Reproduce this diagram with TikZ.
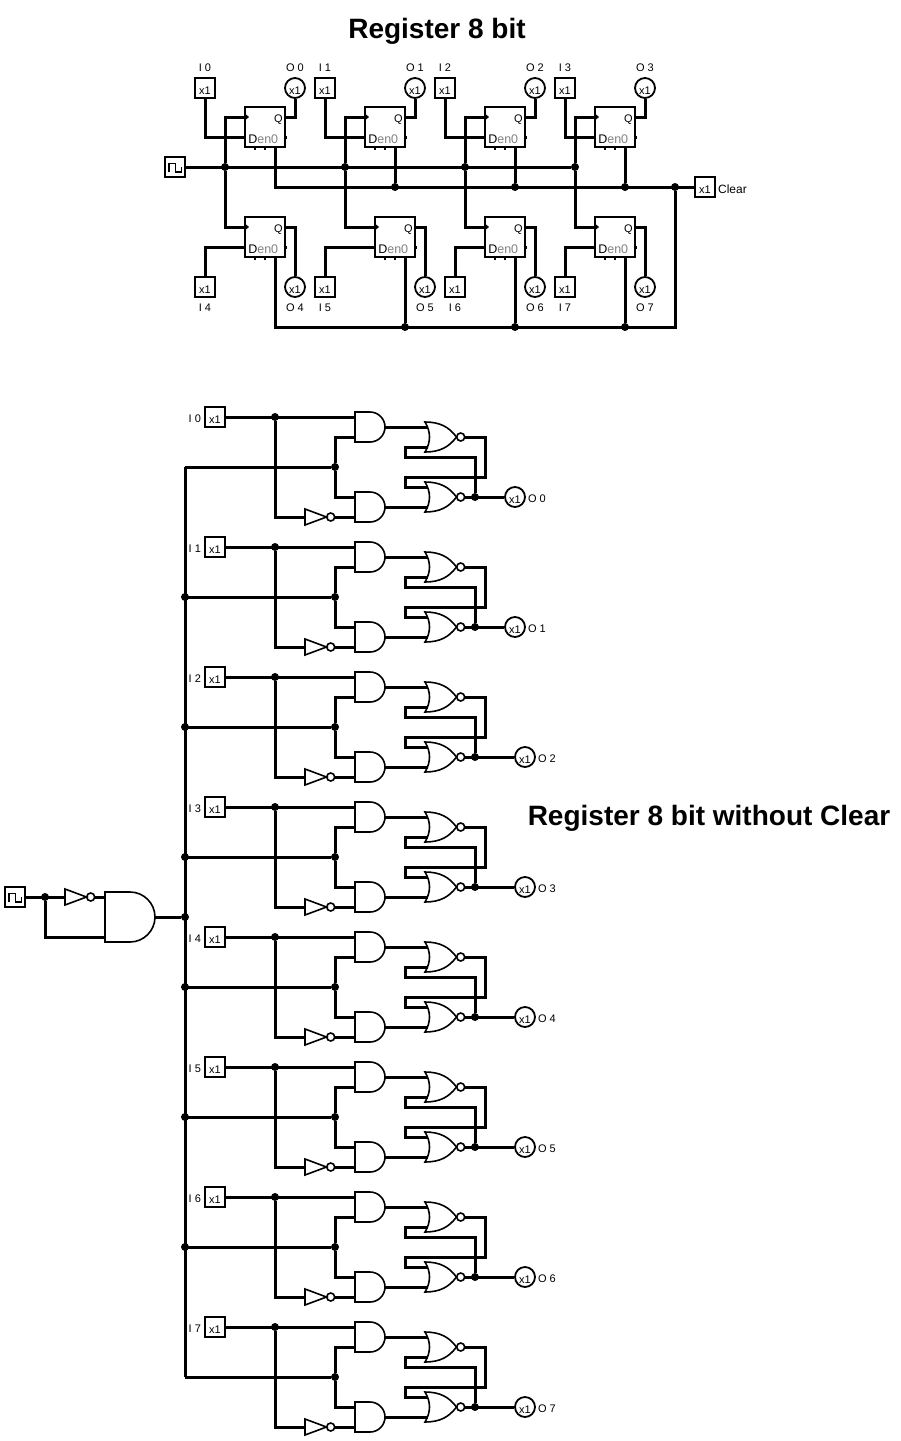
\documentclass[tikz,border=0pt]{standalone}
\usepackage{fontspec}
\setmainfont{Liberation Sans}
\usetikzlibrary{positioning}
\tikzset{
  wire/.style={line width=3pt},
  gateline/.style={line width=1.6pt},
  dot/.style={circle,fill=black,inner sep=0pt,minimum size=8pt},
  xbox/.style={draw,line width=1.8pt,inner sep=0pt,minimum size=20pt,text height=12pt,text depth=0pt,font=\fontsize{11}{11}\selectfont},
  xout/.style={draw,circle,line width=1.8pt,inner sep=0pt,minimum size=20pt,text height=12pt,text depth=0pt,font=\fontsize{11}{11}\selectfont},
  lbl/.style={inner sep=0pt,yshift=-1pt,font=\fontsize{11}{11}\selectfont},
  title/.style={inner sep=0pt,font=\fontsize{28}{28}\selectfont\bfseries},
  ffbox/.style={draw,line width=1.8pt,inner sep=0pt,minimum size=40pt},
  clocksrc/.style={draw,line width=1.8pt,inner sep=0pt,minimum size=20pt,
    path picture={\draw[line width=1.8pt] (path picture bounding box.center) ++(-6,5) -- ++(0,-8.5) -- ++(6.5,0) -- ++(0,8.5) -- ++(6,0) -- ++(0,-5);}},
  pics/andpic/.style 2 args={code={
    \draw[gateline] (-#1,-#1) -- (0,-#1) .. controls (0.55*#1,-#1) and (#1,-0.55*#1) .. (#1,0)
      .. controls (#1,0.55*#1) and (0.55*#1,#1) .. (0,#1) -- (-#1,#1) -- cycle;
    \coordinate (-in1) at (-#1,-#2);
    \coordinate (-in2) at (-#1,#2);
    \coordinate (-out) at (#1,0);
  }},
  pics/norpic/.style={code={
    \draw[gateline] (-15,-15) .. controls (-9,-5) and (-9,5) .. (-15,15)
      .. controls (0,15) and (9,10) .. (16.5,0) .. controls (9,-10) and (0,-15) .. (-15,-15) -- cycle;
    \draw[gateline] (20.7,0) circle (4);
    \coordinate (-in1) at (-12,-10);
    \coordinate (-in2) at (-12,10);
    \coordinate (-out) at (24.7,0);
  }},
  pics/notpic/.style={code={
    \draw[gateline] (-10,-8) -- (11.5,0) -- (-10,8) -- cycle;
    \draw[gateline] (15.7,0) circle (4);
    \coordinate (-in) at (-10,0);
    \coordinate (-out) at (19.7,0);
  }}
}
\begin{document}
\begin{tikzpicture}[x=1pt,y=-1pt]
  \useasboundingbox (0,0) rectangle (901,1441);
  \node[title] (titleA) at (437,31) {Register 8 bit};
  \node[title] (titleB) at (709,818) {Register 8 bit without Clear};

  % register with clear
  \node[clocksrc] (clkA) at (175,167) {};
  \node[xbox] (clr) at (705,187) {x1};
  \node[lbl,right=2pt of clr,yshift=-1pt] (lclr) {\fontsize{12}{12}\selectfont Clear};
  \node[dot] (clrj) at (675,187) {};
  \coordinate (clrbot) at (675,327);
  \foreach \i/\x/\inx/\outx/\ck in {0/265/205/295/225,1/385/325/415/345,2/505/445/535/465,3/615/565/645/575}{
    \node[ffbox] (ff\i) at (\x,127) {};
    \node[xbox] (in\i) at (\inx,88) {x1};
    \node[xout] (out\i) at (\outx,88) {x1};
    \node[lbl,above=6pt of in\i] (lin\i) {I \i};
    \node[lbl,above=6pt of out\i] (lout\i) {O \i};
    \node[dot] (ck\i) at (\ck,167) {};
    \draw[wire] (in\i.south) |- ([yshift=-10pt]ff\i.west);
    \draw[wire] ([yshift=10pt]ff\i.east) -| (out\i.south);
    \draw[wire] (ck\i) |- ([yshift=10pt]ff\i.west);
  }
  \foreach \i/\x/\inx/\outx/\ck [evaluate=\i as \k using int(\i-4)] in {4/265/205/295/225,5/395/325/425/345,6/505/455/535/465,7/615/565/645/575}{
    \node[ffbox] (ff\i) at (\x,237) {};
    \node[xbox] (in\i) at (\inx,287) {x1};
    \node[xout] (out\i) at (\outx,287) {x1};
    \node[lbl,below=5pt of in\i] (lin\i) {I \i};
    \node[lbl,below=5pt of out\i] (lout\i) {O \i};
    \draw[wire] (in\i.north) |- ([yshift=-10pt]ff\i.west);
    \draw[wire] ([yshift=10pt]ff\i.east) -| (out\i.north);
    \draw[wire] (ck\k) |- ([yshift=10pt]ff\i.west);
  }
  \foreach \i in {0,...,7}{
    \node[lbl,anchor=east] (q\i) at ([xshift=-3pt,yshift=8pt]ff\i.east) {Q};
    \node[lbl,anchor=west] (d\i) at ([xshift=4pt,yshift=-11pt]ff\i.west) {\fontsize{12.5}{12.5}\selectfont D\textcolor{gray}{en0}};
    \fill ([yshift=14pt]ff\i.west) -- ([xshift=5pt,yshift=10pt]ff\i.west) -- ([yshift=6pt]ff\i.west) -- cycle;
    \draw[line width=2pt] ([yshift=-9pt]ff\i.east) -- ([yshift=-12pt]ff\i.east);
    \draw[line width=2pt] ([xshift=-10pt]ff\i.south) -- ++(0,2);
    \draw[line width=2pt] (ff\i.south) -- ++(0,2);
  }
  \draw[wire] (clkA.east) -- (ck3);
  \draw[wire] ([xshift=10pt]ff0.south) |- (clr.west);
  \draw[wire] (clrj) -- (clrbot) -| ([xshift=10pt]ff4.south);
  \foreach \i/\x in {1/395,2/515,3/625}{
    \node[dot] (clrt\i) at (\x,187) {};
    \draw[wire] ([xshift=10pt]ff\i.south) -- (clrt\i);
  }
  \foreach \i/\x in {5/405,6/515,7/625}{
    \node[dot] (clrb\i) at (\x,327) {};
    \draw[wire] ([xshift=10pt]ff\i.south) -- (clrb\i);
  }

  % register without clear
  \node[clocksrc] (clkB) at (15,897) {};
  \pic (invclk) at (75,897) {notpic};
  \pic (andclk) at (130,917) {andpic={25}{20}};
  \node[dot] (clkj) at (45,897) {};
  \node[dot] (busj) at (185,917) {};
  \draw[wire] (clkB.east) -- (invclk-in);
  \draw[wire] (invclk-out) -- (andclk-in1);
  \draw[wire] (clkj) |- (andclk-in2);
  \draw[wire] (andclk-out) -- (busj);
  \foreach \i/\ox in {0/515,1/515,2/525,3/525,4/525,5/525,6/525,7/525}{
    \begin{scope}[yshift=-130*\i]
      \node[xbox] (x\i) at (215,417) {x1};
      \node[lbl,left=3pt of x\i,yshift=-1pt] (lx\i) {I \i};
      \pic (andA\i) at (370,427) {andpic={15}{10}};
      \pic (andB\i) at (370,507) {andpic={15}{10}};
      \pic (norA\i) at (440,437) {norpic};
      \pic (norB\i) at (440,497) {norpic};
      \pic (inv\i) at (315,517) {notpic};
      \node[xout] (y\i) at (\ox,497) {x1};
      \node[lbl,right=2pt of y\i,yshift=-1pt] (ly\i) {O \i};
      \node[dot] (jin\i) at (275,417) {};
      \node[dot] (jen\i) at (335,467) {};
      \node[dot] (jfb\i) at (475,497) {};
      \coordinate (bus\i) at (185,467);
      \coordinate (fbA\i) at (405,457);
      \coordinate (fbB\i) at (485,477);
      \coordinate (fbC\i) at (405,477);
      \draw[wire] (x\i.east) -- (andA\i-in1);
      \draw[wire] (jin\i) |- (inv\i-in);
      \draw[wire] (inv\i-out) -- (andB\i-in2);
      \draw[wire] (bus\i) -- (jen\i);
      \draw[wire] (jen\i) |- (andA\i-in2);
      \draw[wire] (jen\i) |- (andB\i-in1);
      \draw[wire] (andA\i-out) -- (norA\i-in1);
      \draw[wire] (andB\i-out) -- (norB\i-in2);
      \draw[wire] (norB\i-out) -- (y\i.west);
      \draw[wire] (jfb\i) |- (fbA\i) |- (norA\i-in2);
      \draw[wire] (norA\i-out) -| (fbB\i) -- (fbC\i) |- (norB\i-in1);
    \end{scope}
  }
  \draw[wire] (bus0) -- (bus7);
  \foreach \i in {1,...,6}{
    \node[dot] (jbus\i) at (bus\i) {};
  }
\end{tikzpicture}
\end{document}
